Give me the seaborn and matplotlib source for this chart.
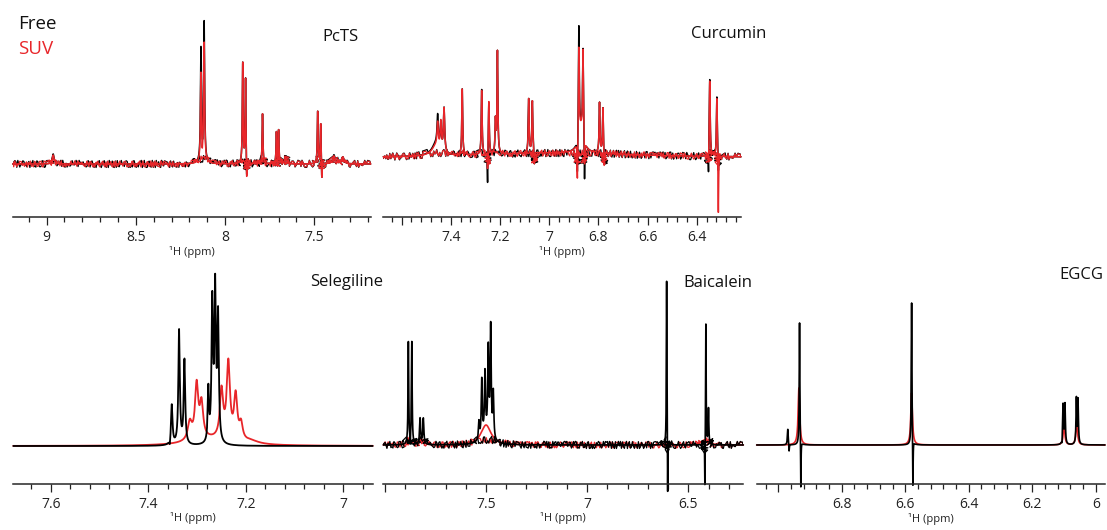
import numpy as np
import pandas as pd
import matplotlib
matplotlib.use("Agg")
import matplotlib.pyplot as plt
import seaborn as sns
from matplotlib.ticker import MultipleLocator, FixedLocator, FixedFormatter

sns.set_theme(style="ticks")
plt.rcParams['font.family'] = ['Open Sans', 'DejaVu Sans']

# ---------------- data ----------------
# Peaks: position (ppm), intensity (arbitrary units), half width (ppm)
# PcTS
pcts_free_ppm = [8.963, 8.135, 8.117, 8.126, 8.125, 7.901, 7.885, 7.879, 7.79, 7.712, 7.70, 7.706, 7.481, 7.464, 7.458, 7.66, 7.39, 7.34]
pcts_free_int = [10, 110, 136, -6, 6, 100, 86, -24, 50, 32, 34, -12, 52, 41, -20, 8, 9, 7]
pcts_free_hw = [0.006, 0.003, 0.003, 0.002, 0.015, 0.0025, 0.0025, 0.002, 0.0025, 0.0025, 0.0025, 0.002, 0.0025, 0.0025, 0.002, 0.006, 0.008, 0.008]
pcts_suv_ppm = [8.963, 8.135, 8.117, 8.128, 8.125, 7.901, 7.885, 7.879, 7.79, 7.712, 7.70, 7.706, 7.481, 7.464, 7.458, 7.66, 7.39, 7.34]
pcts_suv_int = [9, 86, 116, -10, 5, 100, 86, -26, 50, 32, 34, -12, 52, 41, -20, 7, 8, 7]
pcts_suv_hw = pcts_free_hw

# Curcumin
curc_free_ppm = [6.95, 7.46, 7.453, 7.44, 7.427, 7.353, 7.274, 7.245, 7.25, 7.218, 7.21, 7.083, 7.068, 7.06, 6.87, 6.879, 6.862, 6.885, 6.856, 6.795, 6.781, 6.776, 6.347, 6.352, 6.318, 6.312]
curc_free_int = [5, 12, 30, 24, 44, 66, 65, 54, -36, 32, 102, 54, 52, -14, 26, 112, 88, -40, -46, 50, 46, -18, 78, -26, 60, -20]
curc_free_hw = [0.4, 0.02, 0.003, 0.003, 0.003, 0.002, 0.002, 0.002, 0.0015, 0.002, 0.002, 0.002, 0.002, 0.0015, 0.012, 0.002, 0.002, 0.0015, 0.0015, 0.002, 0.002, 0.0015, 0.002, 0.0012, 0.002, 0.0012]
curc_suv_ppm = curc_free_ppm
curc_suv_int = [5, 10, 24, 28, 44, 66, 64, 54, -22, 32, 102, 54, 52, -14, 24, 92, 88, -44, -30, 50, 46, -18, 76, -16, 60, -62]
curc_suv_hw = curc_free_hw

# Selegiline
sel_free_ppm = [7.356, 7.352, 7.337, 7.326, 7.277, 7.269, 7.263, 7.257]
sel_free_int = [-6, 40, 114, 84, 52, 138, 150, 124]
sel_free_hw = [0.001, 0.0018, 0.0018, 0.0018, 0.0015, 0.0018, 0.0018, 0.0018]
sel_suv_ppm = [7.275, 7.315, 7.301, 7.291, 7.25, 7.236, 7.221, 7.21, 7.19]
sel_suv_int = [6, 18, 54, 34, 48, 76, 44, 16, 3]
sel_suv_hw = [0.05, 0.005, 0.004, 0.004, 0.004, 0.004, 0.004, 0.004, 0.02]

# Baicalein
baic_free_ppm = [7.884, 7.867, 7.875, 7.826, 7.81, 7.535, 7.521, 7.505, 7.489, 7.477, 7.464, 7.50, 6.607, 6.602, 6.413, 6.418, 6.40]
baic_free_int = [102, 102, -10, 26, 26, 18, 58, 62, 86, 110, 46, 8, 166, -60, 122, -50, 36]
baic_free_hw = [0.002, 0.002, 0.001, 0.003, 0.003, 0.003, 0.003, 0.003, 0.003, 0.003, 0.003, 0.03, 0.0015, 0.001, 0.0015, 0.001, 0.002]
baic_suv_ppm = [7.88, 7.82, 7.50, 6.42]
baic_suv_int = [6, 6, 20, 5]
baic_suv_hw = [0.01, 0.01, 0.03, 0.02]

# EGCG
egcg_free_ppm = [6.97, 6.966, 6.933, 6.929, 6.58, 6.576, 6.103, 6.097, 6.106, 6.061, 6.056, 6.059]
egcg_free_int = [16, -8, 124, -52, 144, -52, 40, 40, -6, 46, 44, -6]
egcg_free_hw = [0.0015, 0.001, 0.0012, 0.0008, 0.0012, 0.0008, 0.0015, 0.0015, 0.001, 0.0015, 0.0015, 0.001]
egcg_suv_ppm = [6.935, 6.58, 6.10, 6.06]
egcg_suv_int = [57, 52, 20, 23]
egcg_suv_hw = [0.003, 0.003, 0.003, 0.003]

# tick marks / labels
pcts_ticks = [9, 8.5, 8, 7.5]
pcts_labels = ["9", "8.5", "8", "7.5"]
curc_ticks = [7.6, 7.4, 7.2, 7.0, 6.8, 6.6, 6.4]
curc_labels = ["", "7.4", "7.2", "7", "6.8", "6.6", "6.4"]
sel_ticks = [7.6, 7.4, 7.2, 7.0]
sel_labels = ["7.6", "7.4", "7.2", "7"]
baic_ticks = [8.0, 7.5, 7.0, 6.5]
baic_labels = ["", "7.5", "7", "6.5"]
egcg_ticks = [7.0, 6.8, 6.6, 6.4, 6.2, 6.0]
egcg_labels = ["", "6.8", "6.6", "6.4", "6.2", "6"]

legend_labels = ["Free", "SUV"]

# ---------------- layout (pixels) ----------------
W, H = 1107, 530
panels = [
    dict(name="PcTS", box=(12.7, 370.7, 2, 217), base=164, xlim=(9.19, 7.184),
         free=(pcts_free_ppm, pcts_free_int, pcts_free_hw), suv=(pcts_suv_ppm, pcts_suv_int, pcts_suv_hw),
         ticks=(pcts_ticks, pcts_labels), minor=0.1, noisy=True, red_top=True, lw=1.1, title=(322, 37)),
    dict(name="Curcumin", box=(383.3, 741, 2, 217), base=158, xlim=(7.674, 6.22),
         free=(curc_free_ppm, curc_free_int, curc_free_hw), suv=(curc_suv_ppm, curc_suv_int, curc_suv_hw),
         ticks=(curc_ticks, curc_labels), minor=0.04, noisy=True, red_top=True, lw=1.1, title=(691, 34)),
    dict(name="Selegiline", box=(13.3, 372.7, 268, 483.5), base=446, xlim=(7.677, 6.94),
         free=(sel_free_ppm, sel_free_int, sel_free_hw), suv=(sel_suv_ppm, sel_suv_int, sel_suv_hw),
         ticks=(sel_ticks, sel_labels), minor=0.04, noisy=False, red_top=False, lw=1.3, title=(310, 282)),
    dict(name="Baicalein", box=(383.3, 743.3, 268, 483.5), base=445, xlim=(8.008, 6.228),
         free=(baic_free_ppm, baic_free_int, baic_free_hw), suv=(baic_suv_ppm, baic_suv_int, baic_suv_hw),
         ticks=(baic_ticks, baic_labels), minor=0.1, noisy=True, red_top=False, lw=1.2, title=(683, 283)),
    dict(name="EGCG", box=(756.7, 1105, 268, 484), base=445, xlim=(7.068, 5.971),
         free=(egcg_free_ppm, egcg_free_int, egcg_free_hw), suv=(egcg_suv_ppm, egcg_suv_int, egcg_suv_hw),
         ticks=(egcg_ticks, egcg_labels), minor=0.04, noisy=False, red_top=False, lw=1.2, title=(1059, 275)),
]


def lineshape(x, peaks):
    ppm, inten, hw = peaks
    y = np.zeros_like(x)
    for c, h, w in zip(ppm, inten, hw):
        y += h * w ** 2 / ((x - c) ** 2 + w ** 2)
    return y


fig = plt.figure(figsize=(W / 100, H / 100), dpi=100)
fig.patch.set_facecolor("white")
colors = {"Free": "#000000", "SUV": "#e8262a"}
noise_amp = {"Free": 3.6, "SUV": 3.0}

for p in panels:
    x0, x1, yt, yb = p["box"]
    ax = fig.add_axes([x0 / W, 1 - yb / H, (x1 - x0) / W, (yb - yt) / H])
    ax.set_facecolor("none")
    grid = np.linspace(min(p["xlim"]), max(p["xlim"]), 30000)
    df = pd.DataFrame({"ppm": grid,
                       "Free": lineshape(grid, p["free"]),
                       "SUV": lineshape(grid, p["suv"])})
    order = ["Free", "SUV"] if p["red_top"] else ["SUV", "Free"]
    for key in order:
        if p["noisy"]:
            # rough baseline texture (line style only), drawn under the clean trace
            nd = pd.DataFrame({"ppm": df["ppm"], "y": df[key].clip(-5, 5)})
            sns.lineplot(data=nd, x="ppm", y="y", ax=ax, color=colors[key], lw=0.9,
                         estimator=None, sort=False, errorbar=None)
            ax.lines[-1].set_sketch_params(scale=noise_amp[key], length=2.2, randomness=3.0)
        sns.lineplot(data=df, x="ppm", y=key, ax=ax, color=colors[key], lw=p["lw"],
                     estimator=None, sort=False, errorbar=None, clip_on=False)
    ax.set_xlim(*p["xlim"])
    ax.set_ylim(-(yb - p["base"]), p["base"] - yt)
    for s in ["left", "right", "top"]:
        ax.spines[s].set_visible(False)
    ax.spines["bottom"].set_linewidth(1.1)
    ax.set_yticks([])
    ax.set_ylabel("")
    tk, tl = p["ticks"]
    ax.xaxis.set_major_locator(FixedLocator(tk))
    ax.xaxis.set_major_formatter(FixedFormatter(tl))
    ax.xaxis.set_minor_locator(MultipleLocator(p["minor"]))
    ax.tick_params(axis="x", which="major", direction="out", length=6, width=0.9,
                   labelsize=10, pad=3.5, colors="#222222")
    ax.tick_params(axis="x", which="minor", direction="out", length=3.6, width=0.9, colors="#222222")
    ax.set_xlabel("¹H (ppm)", fontsize=8, labelpad=0.5, color="#222222")
    tx, ty = p["title"]
    fig.text(tx / W, 1 - ty / H, p["name"], fontsize=12, ha="left", va="center", color="#111111")

fig.text(18 / W, 1 - 24 / H, legend_labels[0], fontsize=13.5, ha="left", va="center", color="#111111")
fig.text(18 / W, 1 - 48.5 / H, legend_labels[1], fontsize=13.5, ha="left", va="center", color="#e8262a")

fig.savefig("out.png", dpi=100, facecolor="white")
